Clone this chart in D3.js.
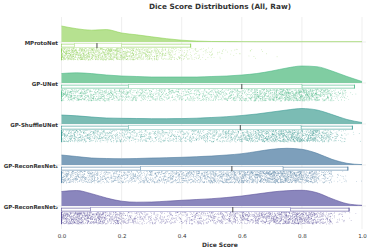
<!DOCTYPE html>
<html>
<head>
<meta charset="utf-8">
<script src="https://cdn.jsdelivr.net/npm/d3@7"></script>
<style>
  body { margin: 0; background: #fff; }
  svg { display: block; font-family: "DejaVu Sans", sans-serif; }
</style>
</head>
<body>
<svg id="chart" width="381" height="251"></svg>
<script>
// Models, top to bottom
const models = ["MProtoNet", "GP-UNet", "GP-ShuffleUNet", "GP-ReconResNet\u2081", "GP-ReconResNet\u2082"];
const fillColors = ["#b6e190", "#80cda2", "#7bbcb4", "#7d9fbb", "#8a86bd"];
const lineColors = ["#8fd156", "#4cb887", "#3a9a93", "#4f7ca0", "#594f99"];

// Density estimate (relative units) sampled at these dice scores
const densityX = [0, 0.05, 0.1, 0.15, 0.2, 0.25, 0.3, 0.35, 0.4, 0.45, 0.5, 0.55, 0.6, 0.65, 0.7, 0.75, 0.8, 0.85, 0.9, 0.95, 1.0];
const densMProtoNet = [16, 13.3, 11.8, 12.4, 9, 7.2, 5.2, 3.3, 1.8, 0.9, 0.5, 0.4, 0.35, 0.3, 0.3, 0.3, 0.3, 0.3, 0.3, 0.3, 0.3];
const densUNet = [9.5, 10.2, 9.4, 8, 7, 6.5, 6, 6, 6, 6, 6.5, 7, 8, 9.5, 12, 15, 17, 16.3, 12, 6.5, 1.5];
const densShuffle = [9, 8.2, 7, 6, 5.7, 5.5, 5.3, 5.3, 5.4, 5.8, 6.5, 7.3, 8.5, 10, 12, 14, 15.5, 14, 9.5, 4.5, 1.5];
const densRecon1 = [10, 8.5, 7, 6.5, 6.3, 6.5, 7, 7.3, 7.7, 8.3, 9, 10, 11.3, 13.5, 15.7, 16.7, 15.7, 11.7, 5.7, 1.7, 0.4];
const densRecon2 = [14.5, 15.5, 12.3, 8, 4.8, 3.8, 4, 4.8, 5.7, 6.5, 7.3, 8.5, 10, 12, 14, 15.3, 15.7, 13.3, 7.3, 2.3, 0.7];
const densities = [densMProtoNet, densUNet, densShuffle, densRecon1, densRecon2];

// Box plot stats
const whiskLo = [0, 0, 0, 0, 0];
const q1 = [0.043, 0.223, 0.223, 0.263, 0.097];
const median = [0.118, 0.60, 0.595, 0.567, 0.57];
const q3 = [0.20, 0.80, 0.797, 0.737, 0.762];
const whiskHi = [0.43, 0.975, 0.968, 0.953, 0.957];

// Rain: number of cases scoring exactly 0, then counts per 0.05 bin
const zeroCounts = [80, 60, 120, 100, 120];
const rainMProtoNet = [300, 260, 240, 250, 200, 160, 120, 80, 50, 30, 18, 10, 6, 3, 1, 0, 0, 0, 0, 0];
const rainUNet = [180, 170, 150, 130, 116, 104, 100, 96, 96, 100, 110, 124, 144, 180, 230, 260, 250, 160, 60, 5];
const rainShuffle = [160, 140, 120, 104, 96, 92, 90, 90, 96, 104, 116, 136, 164, 200, 240, 260, 230, 150, 50, 5];
const rainRecon1 = [170, 144, 120, 110, 110, 116, 124, 132, 144, 156, 172, 192, 220, 256, 280, 260, 190, 90, 20, 2];
const rainRecon2 = [260, 260, 220, 160, 110, 84, 76, 80, 92, 104, 120, 136, 160, 190, 230, 250, 220, 120, 30, 4];
const rainCounts = [rainMProtoNet, rainUNet, rainShuffle, rainRecon1, rainRecon2];
const rainBin = 0.05;

const xTicks = [0, 0.2, 0.4, 0.6, 0.8, 1.0];

const svg = d3.select("#chart");

const x = d3.scaleLinear().domain([0, 1]).range([61.5, 362]);
const y = d3.scalePoint().domain(models).range([42, 206]);
const h = d3.scaleLinear().domain([0, 17]).range([0, 17]);

// Title
svg.append("text")
   .attr("x", 220).attr("y", 9)
   .attr("text-anchor", "middle")
   .style("font-size", "7.3px").style("font-weight", "bold").style("fill", "#333")
   .text("Dice Score Distributions (All, Raw)");

// Grid
const grid = svg.append("g");
grid.selectAll("line.v").data(xTicks).join("line")
    .attr("class", "v")
    .attr("x1", d => x(d)).attr("x2", d => x(d))
    .attr("y1", 17).attr("y2", 229)
    .style("stroke", "#e8e8e8").style("stroke-width", 0.7);
grid.selectAll("line.h").data(models).join("line")
    .attr("class", "h")
    .attr("x1", 56).attr("x2", 366)
    .attr("y1", d => y(d)).attr("y2", d => y(d))
    .style("stroke", "#e8e8e8").style("stroke-width", 0.7);

// X axis
const xAxis = svg.append("g").attr("transform", "translate(0,231)")
  .call(d3.axisBottom(x).tickValues(xTicks).tickFormat(d3.format(".1f")).tickSize(0).tickPadding(3));
xAxis.select(".domain").remove();
xAxis.selectAll("text").style("font-size", "5.5px").style("fill", "#333").style("font-family", "DejaVu Sans");

svg.append("text")
   .attr("x", 220).attr("y", 247)
   .attr("text-anchor", "middle")
   .style("font-size", "6px").style("font-weight", "bold").style("fill", "#333")
   .text("Dice Score");

// Y labels
svg.selectAll("text.ylab").data(models).join("text")
   .attr("class", "ylab")
   .attr("x", 58).attr("y", d => y(d) + 2.8)
   .attr("text-anchor", "end")
   .style("font-size", "5.5px").style("font-weight", "bold").style("fill", "#333")
   .text(d => d);

// deterministic jitter helper (mulberry32-style mix of an index -> 0..1)
function hash(a) {
  a = (a + 0x6D2B79F5) | 0;
  let t = Math.imul(a ^ (a >>> 15), 1 | a);
  t = (t + Math.imul(t ^ (t >>> 7), 61 | t)) ^ t;
  return ((t ^ (t >>> 14)) >>> 0) / 4294967296;
}

models.forEach((m, i) => {
  const base = y(m);
  const g = svg.append("g");

  // Cloud
  const pts = densityX.map((d, k) => [d, densities[i][k]]);
  const area = d3.area()
    .x(d => x(d[0])).y0(base).y1(d => base - h(d[1]))
    .curve(d3.curveMonotoneX);
  const line = d3.line()
    .x(d => x(d[0])).y(d => base - h(d[1]))
    .curve(d3.curveMonotoneX);
  g.append("path").attr("d", area(pts)).style("fill", fillColors[i]).style("stroke", "none");
  g.append("path").attr("d", line(pts)).style("fill", "none")
   .style("stroke", lineColors[i]).style("stroke-width", 0.6);

  // Rain
  const rain = [];
  let n = (i + 1) * 100003;
  for (let z = 0; z < zeroCounts[i]; z++, n++) {
    rain.push({v: 0, t: hash(n * 7919 + 104729)});
  }
  rainCounts[i].forEach((c, b) => {
    for (let k = 0; k < c; k++, n++) {
      rain.push({v: b * rainBin + hash(n * 7919) * rainBin, t: hash(n * 7919 + 104729)});
    }
  });
  g.selectAll("circle").data(rain).join("circle")
   .attr("cx", d => x(d.v))
   .attr("cy", d => base + 6 + d.t * 12)
   .attr("r", 0.42)
   .style("fill", lineColors[i])
   .style("opacity", 0.58);

  // Box
  const bTop = base + 1.6, bH = 4;
  g.append("rect")
   .attr("x", x(whiskLo[i])).attr("y", bTop + 0.5)
   .attr("width", x(q1[i]) - x(whiskLo[i])).attr("height", bH - 1)
   .style("fill", "#fff").style("stroke", lineColors[i]).style("stroke-width", 0.6);
  g.append("rect")
   .attr("x", x(q3[i])).attr("y", bTop + 0.5)
   .attr("width", x(whiskHi[i]) - x(q3[i])).attr("height", bH - 1)
   .style("fill", "#fff").style("stroke", lineColors[i]).style("stroke-width", 0.6);
  g.append("line")
   .attr("x1", x(whiskHi[i])).attr("x2", x(whiskHi[i]))
   .attr("y1", bTop).attr("y2", bTop + bH)
   .style("stroke", lineColors[i]).style("stroke-width", 0.7);
  g.append("rect")
   .attr("x", x(q1[i])).attr("y", bTop)
   .attr("width", x(q3[i]) - x(q1[i])).attr("height", bH)
   .style("fill", "#fff").style("stroke", fillColors[i]).style("stroke-width", 0.5);
  g.append("line")
   .attr("x1", x(median[i])).attr("x2", x(median[i]))
   .attr("y1", bTop - 0.5).attr("y2", bTop + bH + 0.5)
   .style("stroke", "#333").style("stroke-width", 0.9);
});
</script>
</body>
</html>
